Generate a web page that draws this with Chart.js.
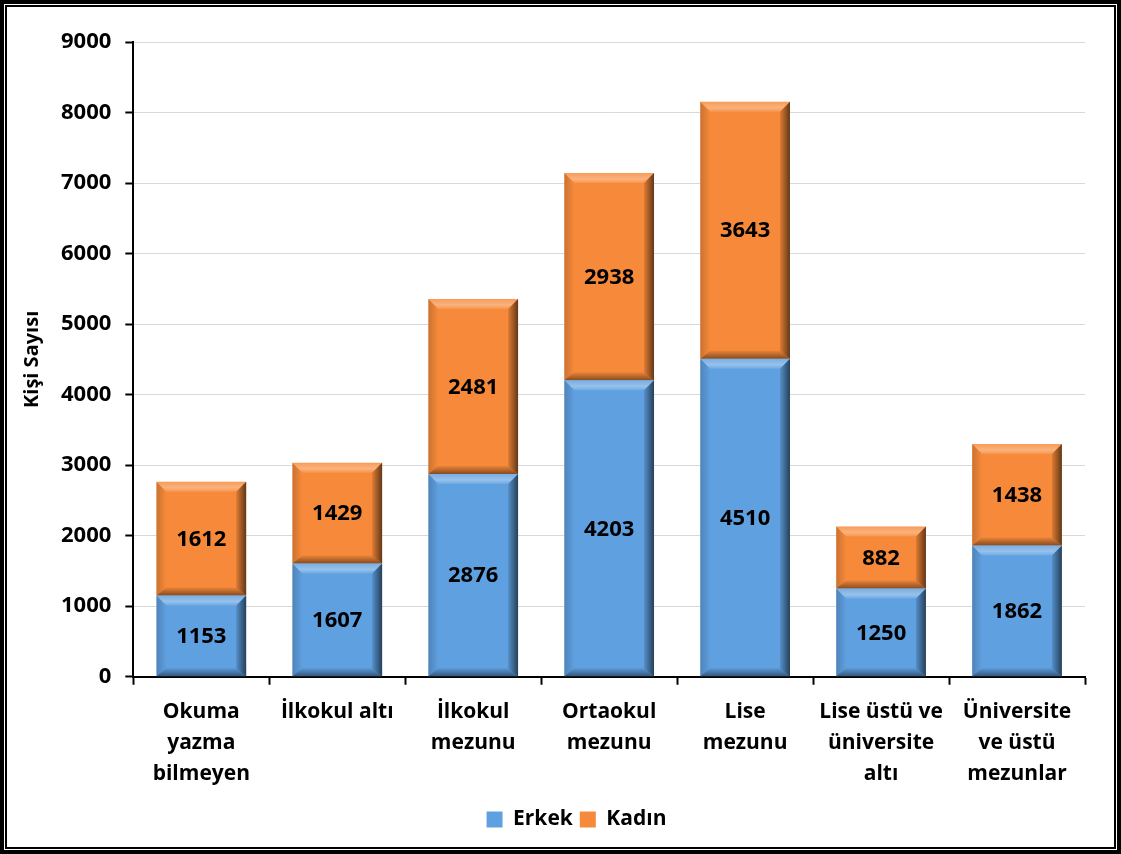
<!DOCTYPE html>
<html>
<head>
<meta charset="utf-8">
<script src="https://cdn.jsdelivr.net/npm/chart.js@4.4.0/dist/chart.umd.min.js"></script>
<style>
  html, body { margin: 0; padding: 0; background: #fff; }
  #frame { position: absolute; left: 0; top: 0; width: 1121px; height: 854px; box-sizing: border-box; border: 4px solid #000; }
  #inner { position: absolute; left: 1px; top: 1px; right: 1px; bottom: 1px; border: 2px solid #000; }
  #wrap { position: absolute; left: 0; top: 0; right: 0; bottom: 0; }
</style>
</head>
<body>
<div id="frame"><div id="inner"><div id="wrap"><canvas id="eduChart"></canvas></div></div></div>
<script>
const categories = [
    ['Okuma', 'yazma', 'bilmeyen'],
    ['İlkokul altı'],
    ['İlkokul', 'mezunu'],
    ['Ortaokul', 'mezunu'],
    ['Lise', 'mezunu'],
    ['Lise üstü ve', 'üniversite', 'altı'],
    ['Üniversite', 've üstü', 'mezunlar']
];
const erkek = [1153, 1607, 2876, 4203, 4510, 1250, 1862];
const kadin = [1612, 1429, 2481, 2938, 3643, 882, 1438];
const yTicks = [0, 1000, 2000, 3000, 4000, 5000, 6000, 7000, 8000, 9000];

const FONT = '"Open Sans", Lato, sans-serif';

// bevel look for bars (drawn over each bar rect given by the library)
const bevelPlugin = {
    id: 'bevel',
    afterDatasetsDraw(chart) {
        const c = chart.ctx;
        chart.data.datasets.forEach((ds, i) => {
            const meta = chart.getDatasetMeta(i);
            if (meta.hidden) return;
            meta.data.forEach(bar => {
                const l = bar.x - bar.width / 2, r = bar.x + bar.width / 2;
                const t = Math.min(bar.y, bar.base), b = Math.max(bar.y, bar.base);
                const h = b - t;
                const bt = Math.min(10, h / 2), bb = Math.min(8, h / 2), bs = Math.min(10, bar.width / 2);
                c.save();
                // top
                let g = c.createLinearGradient(0, t, 0, t + bt);
                g.addColorStop(0, 'rgba(255,255,255,0.15)');
                g.addColorStop(0.6, 'rgba(255,255,255,0.35)');
                g.addColorStop(1, 'rgba(255,255,255,0.1)');
                c.fillStyle = g;
                c.beginPath(); c.moveTo(l, t); c.lineTo(r, t); c.lineTo(r - bs, t + bt); c.lineTo(l + bs, t + bt); c.closePath(); c.fill();
                // bottom
                g = c.createLinearGradient(0, b - bb, 0, b);
                g.addColorStop(0, 'rgba(0,0,0,0.05)');
                g.addColorStop(1, 'rgba(0,0,0,0.45)');
                c.fillStyle = g;
                c.beginPath(); c.moveTo(l, b); c.lineTo(r, b); c.lineTo(r - bs, b - bb); c.lineTo(l + bs, b - bb); c.closePath(); c.fill();
                // left
                g = c.createLinearGradient(l, 0, l + bs, 0);
                g.addColorStop(0, 'rgba(0,0,0,0.18)');
                g.addColorStop(1, 'rgba(0,0,0,0)');
                c.fillStyle = g;
                c.beginPath(); c.moveTo(l, t); c.lineTo(l + bs, t + bt); c.lineTo(l + bs, b - bb); c.lineTo(l, b); c.closePath(); c.fill();
                // right
                g = c.createLinearGradient(r - bs, 0, r, 0);
                g.addColorStop(0, 'rgba(0,0,0,0.1)');
                g.addColorStop(1, 'rgba(0,0,0,0.6)');
                c.fillStyle = g;
                c.beginPath(); c.moveTo(r, t); c.lineTo(r - bs, t + bt); c.lineTo(r - bs, b - bb); c.lineTo(r, b); c.closePath(); c.fill();
                c.restore();
            });
        });
    }
};

// value labels in the middle of each segment
const valueLabels = {
    id: 'valueLabels',
    afterDatasetsDraw(chart) {
        const c = chart.ctx;
        c.save();
        c.font = 'bold 22px ' + FONT;
        c.fillStyle = '#000';
        c.textAlign = 'center';
        c.textBaseline = 'middle';
        chart.data.datasets.forEach((ds, i) => {
            chart.getDatasetMeta(i).data.forEach((bar, j) => {
                c.fillText(ds.data[j], bar.x, (bar.y + bar.base) / 2 + 1);
            });
        });
        c.restore();
    }
};

// nudge the legend a bit to the right, like in the original
const legendShift = {
    id: 'legendShift',
    afterLayout(chart) {
        if (chart.legend) { chart.legend.left += 26; chart.legend.right += 26; }
    }
};

new Chart(document.getElementById('eduChart'), {
    type: 'bar',
    data: {
        labels: categories,
        datasets: [
            { label: 'Erkek', data: erkek, backgroundColor: '#5FA0E0', borderWidth: 0 },
            { label: 'Kadın', data: kadin, backgroundColor: '#F78A3A', borderWidth: 0 }
        ]
    },
    options: {
        responsive: true,
        maintainAspectRatio: false,
        animation: false,
        layout: { padding: { left: 9, right: 29, top: 35, bottom: 7 } },
        datasets: { bar: { categoryPercentage: 0.66, barPercentage: 1 } },
        plugins: {
            legend: {
                position: 'bottom',
                labels: {
                    color: '#000',
                    font: { family: FONT, size: 21, weight: 'bold' },
                    boxWidth: 16, boxHeight: 16, padding: 7
                }
            },
            tooltip: { enabled: false }
        },
        scales: {
            x: {
                stacked: true,
                border: { color: '#000', width: 2 },
                grid: { drawOnChartArea: false, drawTicks: true, tickLength: 8, tickColor: '#000', tickWidth: 2, offset: true },
                ticks: { color: '#000', font: { family: FONT, size: 21, weight: 'bold', lineHeight: 1.48 }, padding: 12, maxRotation: 0, autoSkip: false }
            },
            y: {
                stacked: true,
                min: 0, max: 9000,
                afterBuildTicks: axis => { axis.ticks = yTicks.map(v => ({ value: v })); },
                border: { color: '#000', width: 2 },
                grid: { color: '#D9D9D9', lineWidth: 1, tickLength: 8, tickColor: '#000', tickWidth: 2 },
                ticks: { color: '#000', font: { family: FONT, size: 22, weight: 'bold' }, padding: 14, callback: v => String(v) },
                title: { display: true, text: 'Kişi Sayısı', color: '#000', font: { family: FONT, size: 20, weight: 'bold' }, padding: { bottom: 3 } }
            }
        }
    },
    plugins: [bevelPlugin, valueLabels, legendShift]
});
</script>
</body>
</html>
